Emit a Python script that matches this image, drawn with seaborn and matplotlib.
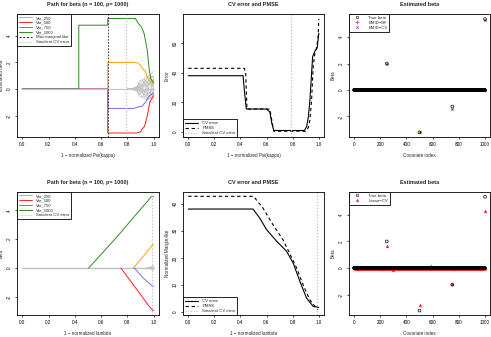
import numpy as np
import pandas as pd
import matplotlib
matplotlib.use("Agg")
import matplotlib.pyplot as plt
from matplotlib.lines import Line2D
import seaborn as sns

# ---- data ----
# top left: BMID path (1 - normalized Psi(kappa))
v1000_x = [0, 0.43, 0.43, 0.65, 0.65, 0.86, 0.885, 0.905, 0.926, 0.94, 0.951, 0.963, 0.976, 0.99, 1.0]
v1000_y = [0, 0, 4.8, 4.8, 5.3, 5.3, 4.9, 4.7, 4.2, 3.5, 2.9, 1.7, 0.8, 0.6, 0.5]
v250_x = [0, 0.65, 0.65, 0.87, 0.9, 0.913, 0.939, 0.95, 0.97, 1.0]
v250_y = [0, 0, 2.0, 2.0, 1.8, 1.55, 1.3, 0.9, 0.6, 0.4]
v500_x = [0, 0.65, 0.65, 0.87, 0.9, 0.913, 0.93, 0.951, 0.97, 0.985, 1.0]
v500_y = [0, 0, -3.3, -3.3, -3.2, -3.0, -2.8, -2.0, -1.0, -0.7, -0.5]
v750_x = [0, 0.65, 0.65, 0.85, 0.885, 0.91, 0.939, 0.96, 0.98, 1.0]
v750_y = [0, 0, -1.45, -1.45, -1.33, -1.3, -0.96, -0.6, -0.4, -0.3]
noise_x = [0.80, 0.84, 0.87, 0.89, 0.91, 0.93, 0.95, 0.97, 0.99, 1.00]
noise_paths = [
    [0, 0.02, 0.10, 0.35, 0.60, 0.85, 0.95, 1.00, 0.90, 0.95],
    [0, -0.02, -0.10, -0.30, -0.55, -0.70, -0.80, -0.65, -0.75, -0.70],
    [0, 0.05, 0.20, 0.10, 0.40, 0.20, 0.60, 0.30, 0.70, 0.50],
    [0, -0.05, -0.15, 0.05, -0.35, -0.10, -0.50, -0.20, -0.60, -0.40],
    [0, 0.00, 0.08, -0.20, 0.25, -0.30, 0.45, -0.45, 0.55, -0.30],
    [0, 0.03, -0.05, 0.30, -0.20, 0.50, -0.40, 0.70, -0.50, 0.60],
    [0, 0.00, 0.00, 0.15, 0.30, 0.55, 0.80, 1.05, 1.25, 1.35],
    [0, 0.00, -0.05, -0.10, -0.25, -0.40, -0.70, -0.95, -1.00, -0.90],
    [0, 0.01, 0.12, 0.45, 0.20, 0.75, 0.40, 0.90, 0.35, 0.80],
    [0, -0.01, -0.08, -0.40, -0.15, -0.60, -0.30, -0.75, -0.25, -0.55],
    [0, 0.02, 0.05, 0.60, 0.70, 0.40, 0.85, 0.60, 1.00, 0.70],
    [0, 0.00, -0.02, -0.55, -0.65, -0.35, -0.70, -0.45, -0.80, -0.50],
    [0, 0.04, 0.15, -0.05, 0.10, 0.35, 0.15, 0.55, 0.20, 0.30],
    [0, -0.03, -0.10, 0.20, -0.05, -0.25, 0.10, -0.35, 0.05, -0.15],
]
max_marg_psi = 0.65
min_cv_psi = 0.79

# top middle: CV error / PMSE vs psi
cv_x = [0, 0.42, 0.43, 0.445, 0.60, 0.625, 0.64, 0.655, 0.89, 0.907, 0.92, 0.932, 0.953, 0.97, 0.988, 1.0]
cv_y = [38, 38, 28, 15.5, 15.5, 13.5, 6, 1.0, 1.0, 3.6, 10, 21.6, 50.9, 54.6, 56.8, 66.7]
pmse_x = [0, 0.43, 0.44, 0.45, 0.625, 0.64, 0.655, 0.90, 0.92, 0.932, 0.945, 0.957, 0.97, 0.983, 0.995, 1.0]
pmse_y = [43, 43, 40, 15.5, 15.5, 8, 0.5, 0.5, 3, 8.1, 21.6, 44, 53, 57, 64, 76.4]

# true beta and estimates
signal_idx = [250, 500, 750, 1000]
true_sig = [2.0, -3.2, -1.25, 5.35]
bf_sig = [2.0, -3.2, -1.43, 5.3]
cvb_sig = [2.0, -3.2, -1.43, 5.3]

# bottom left: lasso path (1 - normalized lambda)
l1000_x = [0, 0.505, 0.6, 0.735, 0.85, 0.95, 0.98, 1.0]
l1000_y = [0, 0, 0.95, 2.31, 3.55, 4.6, 4.95, 4.95]
l250_x = [0, 0.845, 0.92, 0.99, 1.0]
l250_y = [0, 0, 0.8, 1.6, 1.65]
l500_x = [0, 0.75, 0.88, 0.96, 0.995, 1.0]
l500_y = [0, 0, -1.6, -2.6, -2.95, -2.95]
l750_x = [0, 0.852, 0.92, 0.99, 1.0]
l750_y = [0, 0, -0.7, -1.25, -1.27]
lnoise_x = [0.95, 0.97, 0.99, 1.0]
lnoise_paths = [
    [0, 0.05, 0.12, 0.15],
    [0, -0.04, -0.12, -0.15],
    [0, 0.03, 0.08, 0.10],
    [0, -0.02, -0.06, -0.08],
    [0, 0.02, 0.05, 0.06],
]
min_cv_lam = 0.985

# bottom middle: CV error / PMSE vs lambda
lcv_x = [0, 0.496, 0.547, 0.60, 0.677, 0.753, 0.804, 0.855, 0.906, 0.957, 1.0]
lcv_y = [38.1, 38.1, 34.8, 30.5, 26.2, 22.5, 18.1, 11.4, 5.2, 2.1, 1.7]
lpmse_x = [0, 0.50, 0.572, 0.649, 0.725, 0.776, 0.83, 0.88, 0.93, 0.98, 0.995]
lpmse_y = [42.8, 42.8, 38.5, 32.3, 26.8, 21.8, 16.3, 10.1, 4.6, 1.5, 0.9]

# bottom right: lasso-CV estimates
lasso_sig = [1.63, -2.76, -1.2, 4.31]
lasso_noise_idx = [30, 80, 150, 220, 300, 460, 490, 590, 600, 730, 760, 880, 970]
lasso_noise_val = [-0.1, 0.1, 0.05, -0.05, -0.15, 0.1, 0.1, 0.15, 0.1, 0.05, -0.05, 0.1, -0.05]

# ---- style ----
sns.set_theme(style="ticks")
plt.rcParams["font.family"] = ["Liberation Sans", "DejaVu Sans"]

ORANGE, RED, BLUE, GREEN, GRAY = "#FFA500", "#FF2020", "#7070FF", "#2E8B22", "#C0C0C0"
W, H = 491, 337
fig = plt.figure(figsize=(W / 100, H / 100), dpi=100)

TICK_FS, LAB_FS, TITLE_FS, LEG_FS = 3.3, 3.3, 4.0, 3.1


def make_ax(l, r, t, b):
    ax = fig.add_axes([l / W, 1 - b / H, (r - l) / W, (b - t) / H])
    for s in ax.spines.values():
        s.set_linewidth(0.6)
        s.set_color("black")
    ax.tick_params(labelsize=TICK_FS, length=1.6, width=0.5, pad=2, direction="out", colors="black")
    ax.tick_params(axis="y", labelrotation=90)
    return ax


def deco(ax, title, xlabel, ylabel):
    ax.set_title(title, fontsize=TITLE_FS, fontweight="bold", pad=6)
    ax.set_xlabel(xlabel, fontsize=LAB_FS, labelpad=4.5)
    ax.set_ylabel(ylabel, fontsize=LAB_FS, labelpad=2.5)
    for lab in ax.get_yticklabels():
        lab.set_verticalalignment("center")


def line(ax, x, y, color, lw=0.7, ls="-"):
    sns.lineplot(x=x, y=y, ax=ax, color=color, linewidth=lw, linestyle=ls,
                 estimator=None, sort=False, legend=False)


def legend(ax, handles, labels, loc):
    lg = ax.legend(handles, labels, loc=loc, fontsize=LEG_FS, frameon=True, fancybox=False,
                   edgecolor="black", borderaxespad=0, handlelength=3, borderpad=0.45,
                   labelspacing=0.2, handletextpad=1.0)
    lg.get_frame().set_linewidth(0.6)
    lg.get_frame().set_alpha(1)


xt = [0.0, 0.2, 0.4, 0.6, 0.8, 1.0]
xtl = ["0.0", "0.2", "0.4", "0.6", "0.8", "1.0"]
var_labels = ["Var_250", "Var_500", "Var_750", "Var_1000"]
var_colors = [ORANGE, RED, BLUE, GREEN]

# ---- top left ----
ax = make_ax(17, 159, 14, 137)
for p in noise_paths:
    line(ax, noise_x, p, GRAY, lw=0.5)
line(ax, v250_x, v250_y, ORANGE)
line(ax, v500_x, v500_y, RED)
line(ax, v750_x, v750_y, BLUE)
line(ax, v1000_x, v1000_y, GREEN)
line(ax, [0, 1], [0, 0], "#C8C2D0", lw=0.8)
ax.axvline(max_marg_psi, color="black", ls=(0, (2.5, 2)), lw=0.5)
ax.axvline(min_cv_psi, color=GRAY, ls=(0, (1, 1.5)), lw=0.9)
ax.set_xlim(-0.04, 1.04)
ax.set_ylim(-3.6, 5.64)
ax.set_xticks(xt, xtl)
ax.set_yticks([-2, 0, 2, 4], ["-2", "0", "2", "4"])
deco(ax, "Path for beta (n = 100, p= 1000)", "1 \u2212 normalized Psi(kappa)", "Estimated beta")
hs = [Line2D([], [], color=c, lw=0.7) for c in var_colors]
hs += [Line2D([], [], color="black", lw=0.6, ls=(0, (2.5, 2))),
       Line2D([], [], color=GRAY, lw=0.8, ls=(0, (1, 1.5)))]
legend(ax, hs, var_labels + ["Max marginal like", "Smallest CV error"], "upper left")

# ---- top middle ----
ax = make_ax(183, 324, 14, 137)
line(ax, cv_x, cv_y, "black", lw=0.8)
line(ax, pmse_x, pmse_y, "black", lw=0.8, ls=(0, (3, 2.5)))
ax.axvline(min_cv_psi, color=GRAY, ls=(0, (1, 1.5)), lw=0.9)
ax.set_xlim(-0.04, 1.04)
ax.set_ylim(-3.4, 79.7)
ax.set_xticks(xt, xtl)
ax.set_yticks([0, 20, 40, 60], ["0", "20", "40", "60"])
deco(ax, "CV error and PMSE", "1 \u2212 normalized Psi(kappa)", "Error")
hs = [Line2D([], [], color="black", lw=0.8),
      Line2D([], [], color="black", lw=0.8, ls=(0, (3, 2.5))),
      Line2D([], [], color=GRAY, lw=0.8, ls=(0, (1, 1.5)))]
legend(ax, hs, ["CV error", "PMSE", "Smallest CV error"], "lower left")

# ---- top right ----
idx = np.arange(1, 1001)
true_beta = pd.Series(0.0, index=idx)
true_beta.loc[signal_idx] = true_sig
bf_beta = pd.Series(0.0, index=idx)
bf_beta.loc[signal_idx] = bf_sig
cv_beta = pd.Series(0.0, index=idx)
cv_beta.loc[signal_idx] = cvb_sig

ax = make_ax(349, 490, 14, 137)
sns.scatterplot(x=idx, y=cv_beta.values, ax=ax, marker="x", s=3, color=BLUE, linewidth=0.6, legend=False)
sns.scatterplot(x=idx, y=bf_beta.values, ax=ax, marker="+", s=4, color=RED, linewidth=0.5, legend=False)
sns.scatterplot(x=idx, y=true_beta.values, ax=ax, marker="o", s=4, facecolors="none",
                edgecolors="black", linewidth=0.5, legend=False)
ax.set_xlim(-38, 1038)
ax.set_ylim(-3.55, 5.74)
ax.set_xticks([0, 200, 400, 600, 800, 1000], ["0", "200", "400", "600", "800", "1000"])
ax.set_yticks([-2, 0, 2, 4], ["-2", "0", "2", "4"])
deco(ax, "Estimated beta", "Covariate index", "Beta")
hs = [Line2D([], [], marker="o", ls="", mfc="none", mec="black", ms=1.8, mew=0.4),
      Line2D([], [], marker="+", ls="", color=RED, ms=2.2, mew=0.5),
      Line2D([], [], marker="x", ls="", color=BLUE, ms=1.8, mew=0.6)]
legend(ax, hs, ["True beta", "BMID\u2212BF", "BMID\u2212CV"], "upper left")

# ---- bottom left ----
ax = make_ax(17, 159, 192, 315)
line(ax, [0, 1], [0, 0], GRAY, lw=1.0)
for p in lnoise_paths:
    line(ax, lnoise_x, p, GRAY, lw=0.5)
line(ax, l250_x[1:], l250_y[1:], ORANGE)
line(ax, l500_x[1:], l500_y[1:], RED)
line(ax, l750_x[1:], l750_y[1:], BLUE)
line(ax, l1000_x[1:], l1000_y[1:], GREEN)
ax.axvline(min_cv_lam, color=GRAY, ls=(0, (1, 1.5)), lw=0.9)
ax.set_xlim(-0.04, 1.04)
ax.set_ylim(-3.26, 5.27)
ax.set_xticks(xt, xtl)
ax.set_yticks([-2, 0, 2, 4], ["-2", "0", "2", "4"])
deco(ax, "Path for beta (n = 100, p= 1000)", "1 \u2212 normalized lambda", "beta")
hs = [Line2D([], [], color=c, lw=0.7) for c in var_colors]
hs += [Line2D([], [], color=GRAY, lw=0.8, ls=(0, (1, 1.5)))]
legend(ax, hs, var_labels + ["Smallest CV error"], "upper left")

# ---- bottom middle ----
ax = make_ax(183, 324, 192, 315)
line(ax, lcv_x, lcv_y, "black", lw=0.8)
line(ax, lpmse_x, lpmse_y, "black", lw=0.8, ls=(0, (3, 2.5)))
ax.axvline(min_cv_lam, color=GRAY, ls=(0, (1, 1.5)), lw=0.9)
ax.set_xlim(-0.04, 1.04)
ax.set_ylim(-1.1, 44.4)
ax.set_xticks(xt, xtl)
ax.set_yticks([0, 10, 20, 30, 40], ["0", "10", "20", "30", "40"])
deco(ax, "CV error and PMSE", "1 \u2212 normalized lambda", "Normalized Margin like")
hs = [Line2D([], [], color="black", lw=0.8),
      Line2D([], [], color="black", lw=0.8, ls=(0, (3, 2.5))),
      Line2D([], [], color=GRAY, lw=0.8, ls=(0, (1, 1.5)))]
legend(ax, hs, ["CV error", "PMSE", "Smallest CV error"], "lower left")

# ---- bottom right ----
lasso_beta = pd.Series(0.0, index=idx)
lasso_beta.loc[signal_idx] = lasso_sig
lasso_beta.loc[lasso_noise_idx] = lasso_noise_val

ax = make_ax(349, 490, 192, 315)
sns.scatterplot(x=idx, y=lasso_beta.values, ax=ax, marker="^", s=4, color=RED,
                edgecolor=RED, linewidth=0.3, legend=False)
sns.scatterplot(x=idx, y=true_beta.values, ax=ax, marker="o", s=4, facecolors="none",
                edgecolors="black", linewidth=0.5, legend=False)
ax.set_xlim(-38, 1038)
ax.set_ylim(-3.53, 5.71)
ax.set_xticks([0, 200, 400, 600, 800, 1000], ["0", "200", "400", "600", "800", "1000"])
ax.set_yticks([-2, 0, 2, 4], ["-2", "0", "2", "4"])
deco(ax, "Estimated beta", "Covariate index", "Beta")
hs = [Line2D([], [], marker="o", ls="", mfc="none", mec="black", ms=1.8, mew=0.4),
      Line2D([], [], marker="^", ls="", color=RED, ms=1.8, mew=0.3)]
legend(ax, hs, ["True beta", "Lasso\u2212CV"], "upper left")

fig.savefig("out.png", dpi=100, facecolor="white")
